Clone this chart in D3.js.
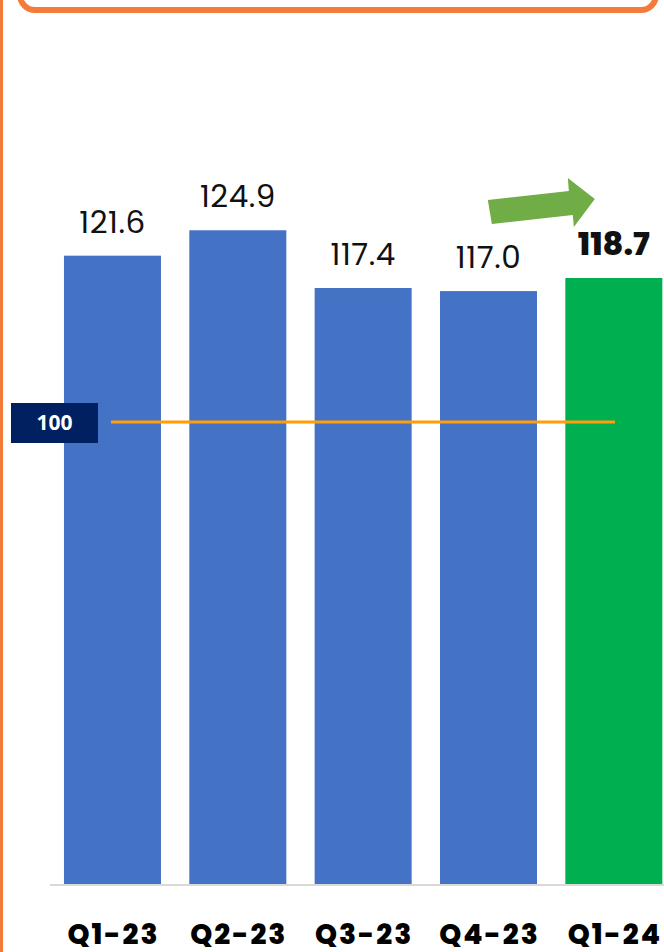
<!DOCTYPE html>
<html>
<head>
<meta charset="utf-8">
<script src="https://cdn.jsdelivr.net/npm/d3@7"></script>
<style>
  html, body { margin: 0; padding: 0; background: #fff; overflow: hidden; }
  svg { display: block; }
</style>
</head>
<body>
<svg id="chart" width="664" height="952"></svg>
<script>
// Quarterly index values (base = 100)
const categories = ["Q1-23", "Q2-23", "Q3-23", "Q4-23", "Q1-24"];
const values = [121.6, 124.9, 117.4, 117.0, 118.7];
const valueLabels = ["121.6", "124.9", "117.4", "117.0", "118.7"];
const baseline = 100;
const baselineLabel = "100";

const W = 664, H = 952;
const svg = d3.select("#chart");

const blue = "#4472C4", green = "#00B050", navy = "#002060";
const amber = "#FF9E0A", frame = "#F47B3A", arrowGreen = "#70AD47";
const font = "Poppins, Lato, 'Open Sans', sans-serif";

// Frame: left rule and the rounded box above the chart
svg.append("line")
  .attr("x1", 1.5).attr("x2", 1.5).attr("y1", 0).attr("y2", H)
  .attr("stroke", frame).attr("stroke-width", 3);
svg.append("rect")
  .attr("x", 20).attr("y", -40).attr("width", 636).attr("height", 50)
  .attr("rx", 15).attr("ry", 15)
  .attr("fill", "none").attr("stroke", frame).attr("stroke-width", 6);

// Scales
const x = d3.scaleBand()
  .domain(categories)
  .range([49.8, 676.5])
  .paddingInner(0.226)
  .paddingOuter(0.113);

const y = d3.scaleLinear()
  .domain([40, 100])
  .range([884, 422]);

const isLast = i => i === categories.length - 1;

// Bars
svg.append("g").selectAll("rect")
  .data(categories)
  .join("rect")
  .attr("x", d => x(d))
  .attr("width", x.bandwidth())
  .attr("y", (d, i) => y(values[i]))
  .attr("height", (d, i) => y(40) - y(values[i]))
  .attr("fill", (d, i) => isLast(i) ? green : blue);

// Category axis line
svg.append("line")
  .attr("x1", 49.8).attr("x2", W).attr("y1", y(40) + 1).attr("y2", y(40) + 1)
  .attr("stroke", "#D9D9D9").attr("stroke-width", 2);

// Value labels
svg.append("g").selectAll("text")
  .data(categories)
  .join("text")
  .attr("x", d => x(d) + x.bandwidth() / 2)
  .attr("y", (d, i) => y(values[i]) - 23)
  .attr("text-anchor", "middle")
  .attr("font-family", font)
  .attr("font-size", (d, i) => isLast(i) ? 32 : 31)
  .attr("font-weight", (d, i) => isLast(i) ? 800 : 400)
  .attr("letter-spacing", (d, i) => isLast(i) ? 0 : 0.5)
  .attr("fill", "#111")
  .text((d, i) => valueLabels[i]);

// Category labels
svg.append("g").selectAll("text")
  .data(categories)
  .join("text")
  .attr("x", d => x(d) + x.bandwidth() / 2 + 1)
  .attr("y", 944)
  .attr("text-anchor", "middle")
  .attr("font-family", font)
  .attr("font-size", 28)
  .attr("font-weight", 800)
  .attr("letter-spacing", 2)
  .attr("fill", "#000")
  .text(d => d);

// Reference line at 100
svg.append("line")
  .attr("x1", 111).attr("x2", 615)
  .attr("y1", y(baseline)).attr("y2", y(baseline))
  .attr("stroke", amber).attr("stroke-width", 3);

svg.append("rect")
  .attr("x", 11).attr("y", y(baseline) - 19)
  .attr("width", 87).attr("height", 40)
  .attr("fill", navy);
svg.append("text")
  .attr("x", 54.5).attr("y", y(baseline) + 8)
  .attr("text-anchor", "middle")
  .attr("font-family", "'Open Sans', sans-serif")
  .attr("font-size", 21).attr("font-weight", 700)
  .attr("fill", "#fff")
  .text(baselineLabel);

// Trend arrow above the latest quarter
const last = categories[categories.length - 1];
const ax = x(last) + x.bandwidth() / 2;
const arrowPts = [
  [-126, 200], [-122, 224], [-41, 215], [-40, 227],
  [-19, 199], [-46, 178], [-45, 191]
].map(([dx, yy]) => [ax + dx, yy]);
svg.append("polygon")
  .attr("points", arrowPts.map(p => p.join(",")).join(" "))
  .attr("fill", arrowGreen);
</script>
</body>
</html>
